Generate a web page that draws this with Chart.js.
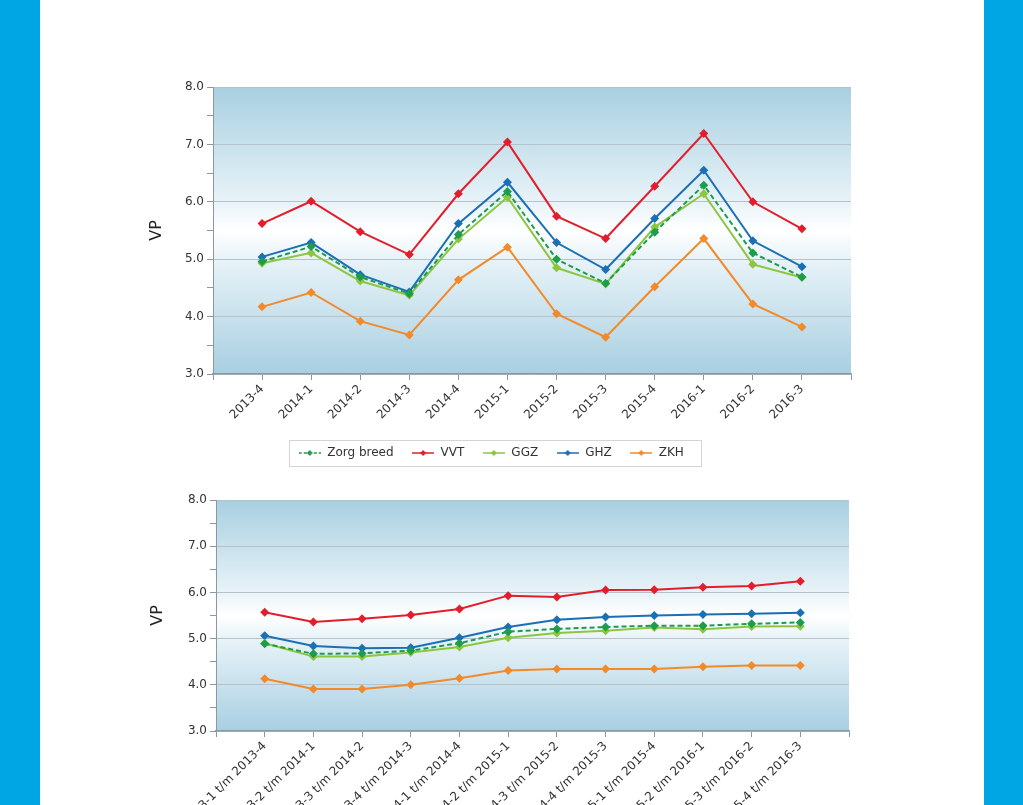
<!DOCTYPE html>
<html>
<head>
<meta charset="utf-8">
<script src="https://cdn.jsdelivr.net/npm/chart.js@4/dist/chart.umd.min.js"></script>
<style>
  html, body { margin: 0; padding: 0; background: #fff; overflow: hidden; }
  body { width: 1023px; height: 805px; position: relative; }
  .side { position: absolute; top: 0; width: 40px; height: 805px; background: #00a5e3; }
  #chartKwartaal { position: absolute; left: 131px; top: 60px; }
  #chartJaar { position: absolute; left: 140px; top: 480px; }
</style>
</head>
<body>
<div class="side" style="left:0"></div>
<div class="side" style="left:984px;width:39px"></div>
<canvas id="chartKwartaal" width="749" height="420"></canvas>
<canvas id="chartJaar" width="740" height="400"></canvas>
<script>
var kwartalen = ['2013-4', '2014-1', '2014-2', '2014-3', '2014-4', '2015-1', '2015-2', '2015-3', '2015-4', '2016-1', '2016-2', '2016-3'];
var zorgKw = [4.96, 5.22, 4.69, 4.40, 5.43, 6.18, 5.00, 4.58, 5.47, 6.29, 5.11, 4.69];
var vvtKw  = [5.62, 6.01, 5.48, 5.08, 6.14, 7.04, 5.75, 5.36, 6.27, 7.19, 6.00, 5.53];
var ggzKw  = [4.93, 5.11, 4.62, 4.37, 5.35, 6.08, 4.85, 4.57, 5.56, 6.14, 4.91, 4.68];
var ghzKw  = [5.04, 5.29, 4.73, 4.43, 5.62, 6.34, 5.29, 4.82, 5.71, 6.55, 5.32, 4.87];
var zkhKw  = [4.17, 4.42, 3.92, 3.68, 4.64, 5.21, 4.05, 3.64, 4.52, 5.36, 4.22, 3.82];

var perioden = ['2013-1 t/m 2013-4', '2013-2 t/m 2014-1', '2013-3 t/m 2014-2', '2013-4 t/m 2014-3',
  '2014-1 t/m 2014-4', '2014-2 t/m 2015-1', '2014-3 t/m 2015-2', '2014-4 t/m 2015-3',
  '2015-1 t/m 2015-4', '2015-2 t/m 2016-1', '2015-3 t/m 2016-2', '2015-4 t/m 2016-3'];
var zorgJr = [4.89, 4.67, 4.68, 4.74, 4.90, 5.15, 5.21, 5.25, 5.28, 5.28, 5.32, 5.35];
var vvtJr  = [5.57, 5.36, 5.43, 5.51, 5.64, 5.93, 5.90, 6.05, 6.06, 6.11, 6.14, 6.24];
var ggzJr  = [4.90, 4.61, 4.61, 4.70, 4.82, 5.02, 5.12, 5.17, 5.24, 5.20, 5.26, 5.27];
var ghzJr  = [5.06, 4.84, 4.79, 4.80, 5.02, 5.25, 5.41, 5.47, 5.50, 5.52, 5.54, 5.56];
var zkhJr  = [4.13, 3.91, 3.91, 4.00, 4.14, 4.31, 4.34, 4.34, 4.34, 4.39, 4.42, 4.42];

var reeksen = ['Zorg breed', 'VVT', 'GGZ', 'GHZ', 'ZKH'];
var kleuren = ['#1c9c4c', '#e31d2b', '#8cc63f', '#1b6fb5', '#f28a2a'];

Chart.defaults.font.family = '"DejaVu Sans", Verdana, sans-serif';
Chart.defaults.font.size = 12;
Chart.defaults.color = '#333';

// small line + diamond picture for the legend
function legendIcon(color, dashed) {
  var c = document.createElement('canvas');
  c.width = 22; c.height = 10;
  var g = c.getContext('2d');
  g.strokeStyle = color;
  g.lineWidth = 1.5;
  if (dashed) g.setLineDash([3, 2]);
  g.beginPath(); g.moveTo(0, 5); g.lineTo(22, 5); g.stroke();
  g.fillStyle = color;
  g.beginPath(); g.moveTo(11, 2); g.lineTo(14, 5); g.lineTo(11, 8); g.lineTo(8, 5); g.closePath(); g.fill();
  return c;
}

var achtergrond = {
  id: 'achtergrond',
  beforeDraw: function(chart) {
    var a = chart.chartArea, ctx = chart.ctx;
    var grad = ctx.createLinearGradient(0, a.top, 0, a.bottom);
    grad.addColorStop(0, '#a8cfe1');
    grad.addColorStop(0.4, '#e8f3f8');
    grad.addColorStop(0.5, '#ffffff');
    grad.addColorStop(0.6, '#e8f3f8');
    grad.addColorStop(1, '#a8cfe1');
    ctx.save();
    ctx.fillStyle = grad;
    ctx.fillRect(a.left, a.top, a.right - a.left, a.bottom - a.top);
    ctx.restore();
  }
};

var legendaKader = {
  id: 'legendaKader',
  afterDraw: function(chart) {
    var lg = chart.legend;
    if (!lg || !lg.options.display || !lg.legendHitBoxes.length) return;
    var hb = lg.legendHitBoxes;
    var l = hb[0].left, r = hb[hb.length - 1].left + hb[hb.length - 1].width, t = hb[0].top;
    var ctx = chart.ctx;
    ctx.save();
    ctx.strokeStyle = '#d4d4d4';
    ctx.lineWidth = 1;
    ctx.strokeRect(Math.round(l - 9) + 0.5, Math.round(t - 7) + 0.5, Math.round(r - l + 26), 26);
    ctx.restore();
  }
};

function maakDatasets(reeksData) {
  return reeksData.map(function(vals, k) {
    return {
      label: reeksen[k],
      data: vals.map(function(v, i) { return { x: i + 1, y: v }; }),
      borderColor: kleuren[k],
      backgroundColor: kleuren[k],
      borderWidth: 2,
      borderDash: k === 0 ? [5, 3] : [],
      pointStyle: 'rectRot',
      pointRadius: 4.5,
      pointBorderWidth: 0,
      tension: 0
    };
  });
}

function opties(labels, yWidth, xHeight, pad, titelPad, legenda) {
  return {
    responsive: false,
    animation: false,
    layout: { padding: pad },
    plugins: {
      tooltip: { enabled: false },
      legend: {
        display: legenda,
        position: 'bottom',
        labels: {
          padding: 18,
          usePointStyle: true,
          pointStyleWidth: 23,
          color: '#333',
          generateLabels: function(chart) {
            return chart.data.datasets.map(function(ds, i) {
              return { text: ds.label, pointStyle: legendIcon(ds.borderColor, i === 0), datasetIndex: i, lineWidth: 0, fontColor: '#333' };
            });
          }
        }
      }
    },
    scales: {
      x: {
        type: 'linear',
        min: 0,
        max: 13,
        afterFit: function(s) { s.height = xHeight; },
        ticks: {
          stepSize: 1,
          autoSkip: false,
          minRotation: 45,
          maxRotation: 45,
          padding: 2,
          color: '#333',
          callback: function(v) { return labels[v - 1] || ''; }
        },
        grid: { drawOnChartArea: false, tickLength: 6, tickColor: '#8b98a3' },
        border: { color: '#8b98a3', width: 1.5 }
      },
      y: {
        min: 3,
        max: 8,
        afterFit: function(s) { s.width = yWidth; },
        ticks: {
          stepSize: 0.5,
          padding: 3,
          color: '#333',
          callback: function(v) { return v % 1 === 0 ? v.toFixed(1) : ''; }
        },
        grid: {
          tickLength: 6,
          tickColor: '#8b98a3',
          color: function(c) { return c.tick && c.tick.value % 1 === 0 ? '#b6c1c9' : 'rgba(0,0,0,0)'; }
        },
        border: { color: '#8b98a3', width: 1 },
        title: { display: true, text: 'VP', font: { size: 16 }, color: '#222', padding: { top: titelPad, bottom: 0 } }
      }
    }
  };
}

new Chart(document.getElementById('chartKwartaal'), {
  type: 'line',
  data: { datasets: maakDatasets([zorgKw, vvtKw, ggzKw, ghzKw, zkhKw]) },
  options: opties(kwartalen, 82, 55, { top: 27, right: 29, bottom: 11, left: 0 }, 16, true),
  plugins: [achtergrond, legendaKader]
});

new Chart(document.getElementById('chartJaar'), {
  type: 'line',
  data: { datasets: maakDatasets([zorgJr, vvtJr, ggzJr, ghzJr, zkhJr]) },
  options: opties(perioden, 76, 149, { top: 20, right: 31, bottom: 0, left: 0 }, 8, false),
  plugins: [achtergrond]
});
</script>
</body>
</html>
